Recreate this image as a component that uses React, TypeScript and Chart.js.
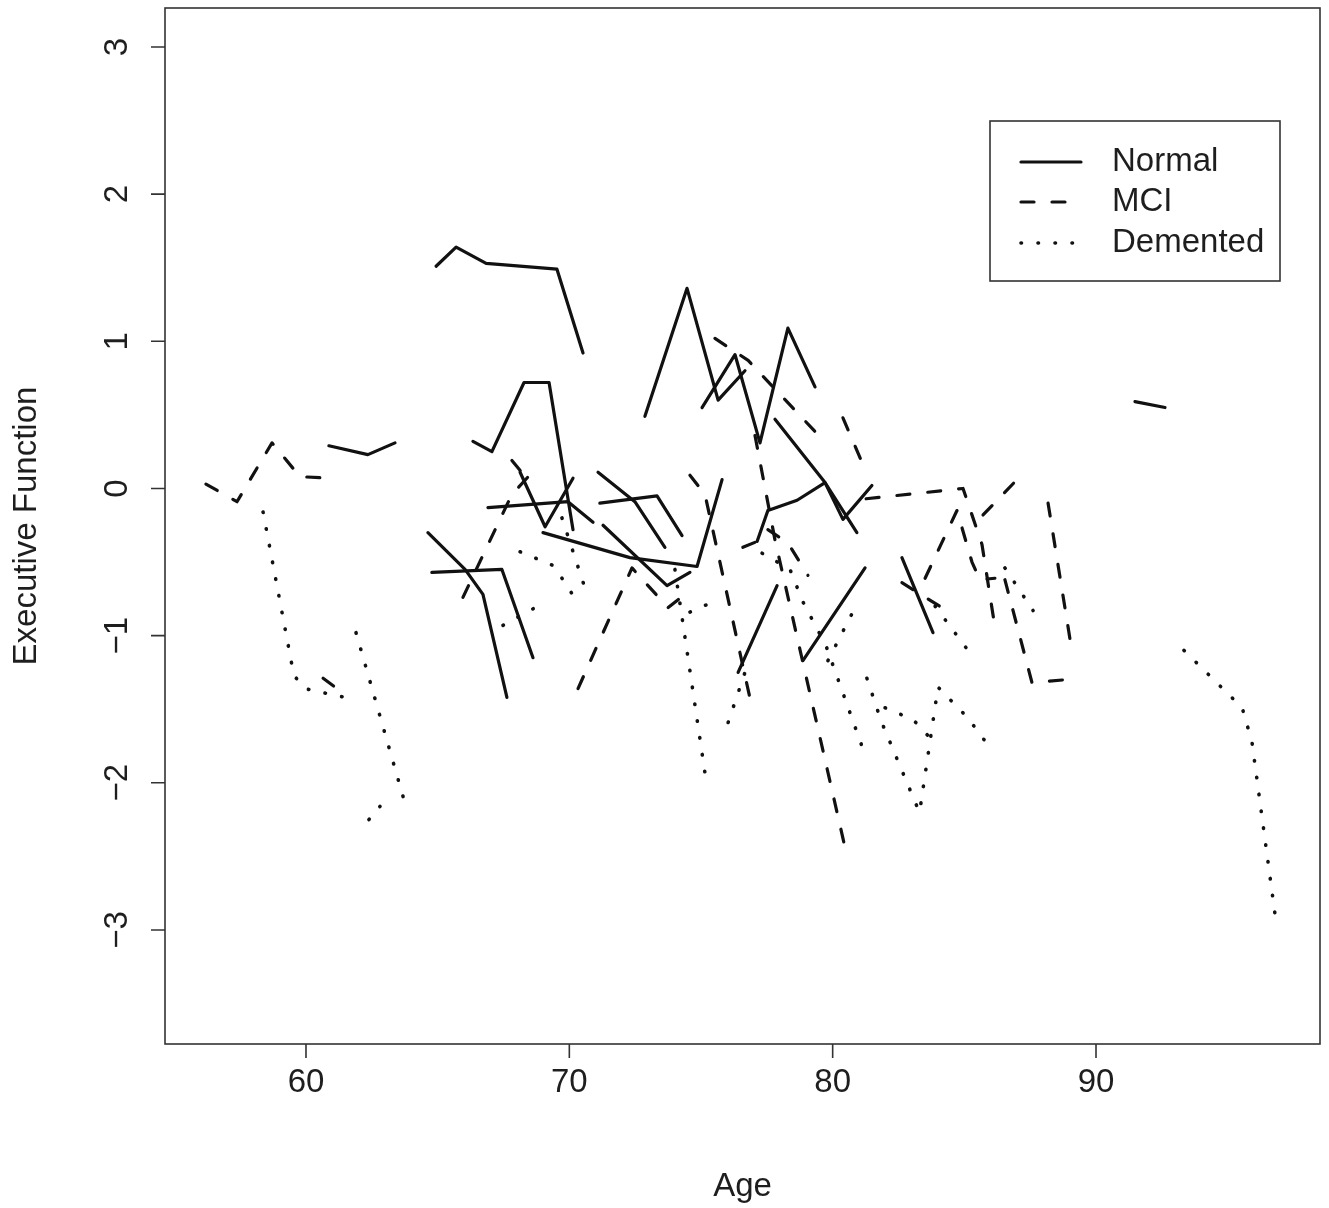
import React, { useEffect, useRef } from "react";
import { Chart, registerables } from "chart.js";

Chart.register(...registerables);

type Traj = [number, number][];

// Each trajectory: [age, executive function] pairs for one subject
const normalTrajectories: Traj[] = [
  [[64.94, 1.51], [65.7, 1.64], [66.84, 1.53], [69.53, 1.49], [70.52, 0.92]],
  [[60.87, 0.29], [62.35, 0.23], [63.38, 0.31]],
  [[66.34, 0.32], [67.06, 0.25], [68.28, 0.72], [69.23, 0.72], [70.14, -0.28]],
  [[68.13, 0.11], [69.08, -0.26], [70.14, 0.07]],
  [[66.91, -0.13], [69.95, -0.09], [70.9, -0.23]],
  [[69.0, -0.3], [72.3, -0.47], [74.85, -0.53], [75.8, 0.06]],
  [[71.28, -0.25], [73.71, -0.66], [74.58, -0.57]],
  [[71.09, 0.11], [72.49, -0.09], [73.63, -0.4]],
  [[71.16, -0.1], [73.33, -0.05], [74.28, -0.32]],
  [[72.87, 0.49], [74.47, 1.36], [75.65, 0.6], [76.67, 0.8]],
  [[75.04, 0.55], [76.29, 0.91], [77.24, 0.31], [78.3, 1.09], [79.33, 0.69]],
  [[77.81, 0.47], [79.71, 0.04], [80.92, -0.3]],
  [[77.13, -0.36], [77.54, -0.15], [78.65, -0.08], [79.71, 0.04], [80.39, -0.21], [81.49, 0.02]],
  [[76.41, -1.25], [77.89, -0.66]],
  [[78.87, -1.17], [81.23, -0.54]],
  [[82.63, -0.47], [83.81, -0.98]],
  [[64.63, -0.3], [66.04, -0.55], [66.72, -0.72], [67.63, -1.42]],
  [[64.78, -0.57], [67.44, -0.55], [68.62, -1.15]],
  [[91.48, 0.59], [92.62, 0.55]],
];

const mciTrajectories: Traj[] = [
  [[56.2, 0.03], [57.38, -0.09], [58.71, 0.31], [59.77, 0.08], [60.99, 0.07]],
  [[60.65, -1.29], [61.18, -1.36]],
  [[65.96, -0.74], [67.82, -0.04], [68.7, 0.13]],
  [[67.82, 0.19], [68.51, 0.04]],
  [[70.33, -1.36], [72.38, -0.54], [73.75, -0.81], [74.32, -0.73]],
  [[74.58, 0.09], [75.15, -0.04], [76.94, -1.49]],
  [[75.53, 1.02], [76.79, 0.87], [79.63, 0.33]],
  [[80.39, 0.48], [81.11, 0.18]],
  [[81.27, -0.07], [84.95, 0.0], [85.67, -0.38], [86.16, -0.94]],
  [[82.63, -0.64], [84.15, -0.81]],
  [[83.51, -0.61], [84.72, -0.15], [85.29, -0.5], [85.59, -0.62], [86.16, -0.61]],
  [[88.18, -0.1], [89.09, -1.11]],
  [[86.54, -0.62], [87.57, -1.32], [88.82, -1.3]],
  [[85.71, -0.18], [87.0, 0.06]],
  [[77.05, 0.36], [77.81, -0.35], [80.47, -2.44]],
  [[76.59, -0.4], [77.13, -0.36]],
  [[77.54, -0.28], [78.3, -0.37], [79.06, -0.59]],
];

const dementedTrajectories: Traj[] = [
  [[58.37, -0.16], [59.54, -1.27], [59.96, -1.36], [60.72, -1.39], [61.75, -1.43]],
  [[61.9, -0.98], [63.84, -2.19]],
  [[62.39, -2.25], [62.81, -2.16]],
  [[93.34, -1.1], [95.55, -1.49], [95.92, -1.72], [96.84, -2.95]],
  [[68.13, -0.43], [69.34, -0.52], [69.72, -0.61], [70.41, -0.8]],
  [[69.72, -0.2], [70.71, -0.74]],
  [[67.48, -0.93], [68.7, -0.81]],
  [[74.01, -0.55], [74.35, -0.96], [75.23, -2.03]],
  [[74.58, -0.84], [75.34, -0.78]],
  [[76.03, -1.59], [76.67, -1.25]],
  [[77.32, -0.44], [78.38, -0.55], [78.87, -0.77], [79.75, -1.07], [81.27, -1.83]],
  [[81.3, -1.29], [81.84, -1.58], [83.2, -2.16]],
  [[83.35, -2.14], [84.0, -1.35], [85.14, -1.56], [86.09, -1.79]],
  [[83.89, -0.8], [85.14, -1.1]],
  [[79.82, -1.17], [80.85, -0.81]],
  [[81.99, -1.49], [83.05, -1.57], [83.62, -1.68]],
  [[86.54, -0.54], [87.61, -0.83]],
];

const groupNames = ["Normal", "MCI", "Demented"];
const xTicks = [60, 70, 80, 90];
const yTicks = [-3, -2, -1, 0, 1, 2, 3];
const xLabel = "Age";
const yLabel = "Executive Function";

const X_MIN = 54.646;
const X_MAX = 98.506;
const Y_MIN = -3.775;
const Y_MAX = 3.265;

const FONT = "33px 'Liberation Sans', Arial, Helvetica, sans-serif";
const TEXT_COLOR = "#1e1e1e";
const LINE_COLOR = "#111";
const DASHES: number[][] = [[], [13, 18], [0.5, 16.5]];
const CAPS: CanvasLineCap[] = ["round", "round", "round"];

const fmt = (v: number) => (v < 0 ? "\u2212" + Math.abs(v) : String(v));

const axesPlugin = {
  id: "rAxes",
  afterDraw(chart: any) {
    const ctx: CanvasRenderingContext2D = chart.ctx;
    const a = chart.chartArea;
    const xs = chart.scales.x;
    const ys = chart.scales.y;
    ctx.save();
    // box
    ctx.strokeStyle = "#333";
    ctx.lineWidth = 1.6;
    ctx.strokeRect(a.left, a.top, a.right - a.left, a.bottom - a.top);
    // ticks
    ctx.lineWidth = 1.6;
    ctx.beginPath();
    xTicks.forEach((t) => {
      const px = xs.getPixelForValue(t);
      ctx.moveTo(px, a.bottom);
      ctx.lineTo(px, a.bottom + 14);
    });
    yTicks.forEach((t) => {
      const py = ys.getPixelForValue(t);
      ctx.moveTo(a.left, py);
      ctx.lineTo(a.left - 14, py);
    });
    ctx.stroke();
    // labels
    ctx.fillStyle = TEXT_COLOR;
    ctx.font = FONT;
    ctx.textAlign = "center";
    ctx.textBaseline = "middle";
    xTicks.forEach((t) => {
      ctx.fillText(String(t), xs.getPixelForValue(t), 1083);
    });
    ctx.fillText(xLabel, (a.left + a.right) / 2, 1187);
    yTicks.forEach((t) => {
      ctx.save();
      ctx.translate(118, ys.getPixelForValue(t));
      ctx.rotate(-Math.PI / 2);
      ctx.fillText(fmt(t), 0, 0);
      ctx.restore();
    });
    ctx.save();
    ctx.translate(27, (a.top + a.bottom) / 2);
    ctx.rotate(-Math.PI / 2);
    ctx.fillText(yLabel, 0, 0);
    ctx.restore();

    // legend
    const lx = 990, ly = 121, lw = 290, lh = 160;
    ctx.fillStyle = "#fff";
    ctx.fillRect(lx, ly, lw, lh);
    ctx.strokeStyle = "#333";
    ctx.lineWidth = 1.6;
    ctx.strokeRect(lx, ly, lw, lh);
    const rows = [162, 202, 243];
    groupNames.forEach((name, i) => {
      ctx.strokeStyle = LINE_COLOR;
      ctx.lineWidth = i === 2 ? 3.6 : 3.2;
      ctx.lineCap = CAPS[i];
      ctx.setLineDash(DASHES[i]);
      ctx.beginPath();
      ctx.moveTo(1021, rows[i]);
      ctx.lineTo(1081, rows[i]);
      ctx.stroke();
      ctx.setLineDash([]);
      ctx.fillStyle = TEXT_COLOR;
      ctx.textAlign = "left";
      ctx.fillText(name, 1112, rows[i]);
    });
    ctx.restore();
  },
};

export default function App() {
  const ref = useRef<HTMLCanvasElement | null>(null);
  useEffect(() => {
    if (!ref.current) return;
    const groups = [normalTrajectories, mciTrajectories, dementedTrajectories];
    const datasets: any[] = [];
    groups.forEach((trajs, gi) => {
      trajs.forEach((tr, ti) => {
        datasets.push({
          label: groupNames[gi] + " " + (ti + 1),
          data: tr.map(([x, y]) => ({ x, y })),
          borderColor: LINE_COLOR,
          borderWidth: gi === 2 ? 3.6 : 3.2,
          borderDash: DASHES[gi],
          borderCapStyle: CAPS[gi],
          borderJoinStyle: "round",
          pointRadius: 0,
          pointHoverRadius: 0,
          fill: false,
          tension: 0,
        });
      });
    });
    const chart = new Chart(ref.current, {
      type: "line",
      data: { datasets },
      options: {
        animation: false,
        responsive: false,
        events: [],
        layout: { padding: { left: 165, top: 8, right: 9, bottom: 164 } },
        plugins: { legend: { display: false }, tooltip: { enabled: false }, title: { display: false } },
        scales: {
          x: { type: "linear", min: X_MIN, max: X_MAX, display: false },
          y: { type: "linear", min: Y_MIN, max: Y_MAX, display: false },
        },
      },
      plugins: [axesPlugin],
    });
    return () => chart.destroy();
  }, []);
  return (
    <div style={{ position: "fixed", left: 0, top: 0, width: 1329, height: 1208, background: "#fff" }}>
      <canvas ref={ref} width={1329} height={1208} style={{ display: "block" }} />
    </div>
  );
}
